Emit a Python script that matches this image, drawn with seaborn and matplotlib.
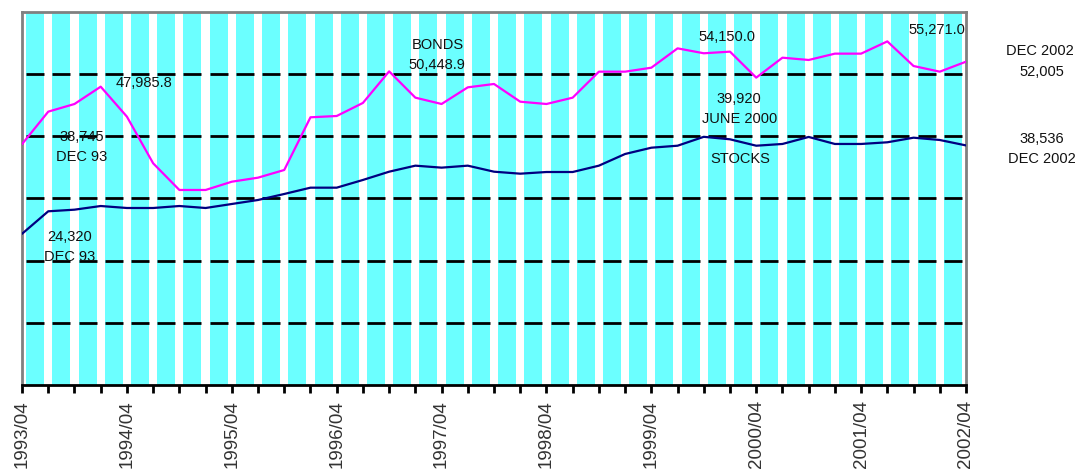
import numpy as np
import pandas as pd
import matplotlib
matplotlib.use('Agg')
import matplotlib.pyplot as plt
import seaborn as sns

# quarterly values (first point = DEC 93, last = DEC 2002)
bonds = [38745, 43970, 45200, 47985.8, 43160, 35660, 31370, 31370, 32700,
         33350, 34585, 43060, 43270, 45370, 50448.9, 46220, 45200, 47880,
         48420, 45570, 45200, 46220, 50400, 50400, 51040, 54150, 53360,
         53620, 49440, 52650, 52280, 53300, 53300, 55271, 51310, 50400, 52005]
stocks = [24320, 27940, 28200, 28790, 28470, 28470, 28790, 28470, 29115,
          29760, 30725, 31740, 31740, 32980, 34310, 35280, 34960, 35280,
          34310, 33990, 34260, 34260, 35280, 37160, 38170, 38490, 39920,
          39520, 38490, 38770, 39900, 38770, 38770, 39040, 39780, 39410, 38536]
year_labels = ["1993/04", "1994/04", "1995/04", "1996/04", "1997/04",
               "1998/04", "1999/04", "2000/04", "2001/04", "2002/04"]
grid_levels = [10000, 20000, 30000, 40000, 50000]
y_max = 60000

# text callouts: (text, x in quarters, y value)
callouts = [
    ("47,985.8", 4.65, 48580),
    ("38,745", 2.29, 39890),
    ("DEC 93", 2.29, 36680),
    ("24,320", 1.83, 23810),
    ("DEC 93", 1.83, 20590),
    ("BONDS", 15.87, 54690),
    ("50,448.9", 15.83, 51475),
    ("54,150.0", 26.9, 55980),
    ("39,920", 27.35, 46000),
    ("JUNE 2000", 27.35, 42790),
    ("STOCKS", 27.4, 36350),
    ("55,271.0", 34.9, 57100),
    ("DEC 2002", 38.82, 53730),
    ("52,005", 38.9, 50350),
    ("38,536", 38.9, 39570),
    ("DEC 2002", 38.9, 36350),
]

n = len(bonds)
df = pd.DataFrame({
    'q': np.arange(n).tolist() * 2,
    'value': bonds + stocks,
    'series': ['BONDS'] * n + ['STOCKS'] * n,
})

sns.set_style("white")
plt.rcParams['font.family'] = ['Liberation Sans', 'DejaVu Sans']

fig = plt.figure(figsize=(10.75, 4.74), dpi=100)
ax = fig.add_axes([0.0205, 0.1878, 0.8781, 0.7869])

# cyan background columns, one per quarter
centers = np.arange(n - 1) + 0.5
bar_w = 0.687
ax.bar(centers, y_max, width=bar_w, color='#6BFFFF', linewidth=0, zorder=1)

# dashed-looking gridlines: only drawn over the columns
for lvl in grid_levels:
    ax.hlines(np.full(len(centers), lvl), centers - bar_w / 2,
              centers + bar_w / 2, colors='black', linewidth=2, zorder=2)

sns.lineplot(data=df, x='q', y='value', hue='series',
             palette={'BONDS': '#FF00FF', 'STOCKS': '#000080'},
             linewidth=1.6, legend=False, ax=ax, zorder=3)

for txt, x, y in callouts:
    ax.text(x, y, txt, ha='center', va='center', fontsize=10.5,
            color='#111111', zorder=4, clip_on=False)

ax.set_xlim(0, n - 1)
ax.set_ylim(0, y_max)
ax.set_yticks([])
ax.set_xlabel('')
ax.set_ylabel('')

ticks = np.arange(n)
labels = ['' for _ in ticks]
for i, lab in enumerate(year_labels):
    labels[i * 4] = lab
ax.set_xticks(ticks)
ax.set_xticklabels(labels, rotation=90, fontsize=13.5, color='#333333')
ax.tick_params(axis='x', length=6, width=2, color='black',
               direction='out', pad=5, bottom=True)

for side in ['left', 'top', 'right']:
    ax.spines[side].set_color('#808080')
    ax.spines[side].set_linewidth(2)
ax.spines['bottom'].set_color('black')
ax.spines['bottom'].set_linewidth(2)

fig.savefig('out.png', dpi=100)
